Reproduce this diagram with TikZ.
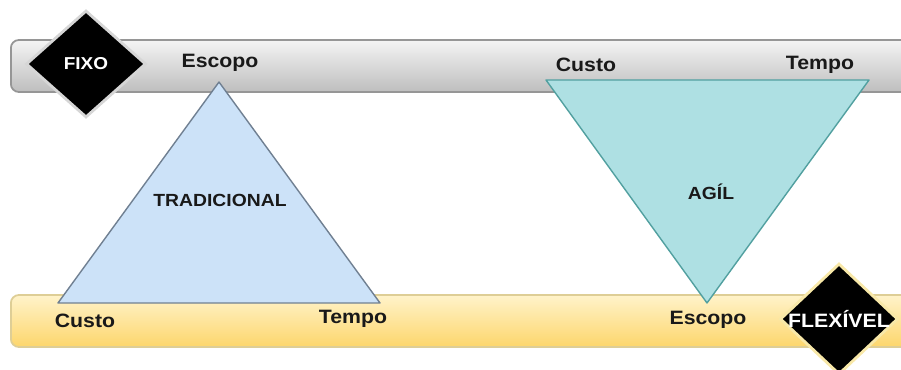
\documentclass[tikz,border=0pt]{standalone}
\usepackage{fontspec}
\setmainfont{Liberation Sans}
\newfontfamily\lblfont{Liberation Sans}[FakeStretch=1.1]
\usepackage{tikz}
\usetikzlibrary{shapes.geometric}
\usepackage{color}
\definecolor{Gray-top}{RGB}{244,244,244}
\definecolor{Gray-bot}{RGB}{190,190,190}
\definecolor{Gray-line}{RGB}{150,150,150}
\definecolor{Sun-top}{RGB}{255,243,202}
\definecolor{Sun-bot}{RGB}{253,214,108}
\definecolor{Sun-line}{RGB}{222,206,150}
\definecolor{Trad-fill}{RGB}{204,226,248}
\definecolor{Trad-line}{RGB}{112,128,146}
\definecolor{Agil-fill}{RGB}{174,224,227}
\definecolor{Agil-line}{RGB}{82,160,160}
\definecolor{Glow-gray}{RGB}{214,214,214}
\definecolor{Glow-sun}{RGB}{248,232,168}
\definecolor{Ink}{RGB}{25,25,25}

\begin{document}
\begin{tikzpicture}
    \path[use as bounding box] (0.0, -7.4) rectangle (18.02, 0.0);

    \tikzset{ bar/.style ={rounded corners=0.16cm, line width=1pt, minimum height=1.04cm, minimum width=18.6cm, anchor=west, inner sep=0} }
    \tikzset{ tag/.style ={diamond, fill=black, line width=1.6pt, inner sep=0} }
    \tikzset{ tagtext/.style ={text=white, inner sep=0} }
    \tikzset{ lbl/.style ={text=Ink, inner sep=0, font=\lblfont\bfseries\fontsize{11}{13}\selectfont} }

    \node[bar, draw=Gray-line, top color=Gray-top, bottom color=Gray-bot] (fixbar)  at (0.2, -1.32) {};
    \node[bar, draw=Sun-line,  top color=Sun-top,  bottom color=Sun-bot]  (flexbar) at (0.2, -6.42) {};

    \coordinate (tradtop)   at (4.38, -1.64);
    \coordinate (tradleft)  at (1.16, -6.06);
    \coordinate (tradright) at (7.60, -6.06);
    \coordinate (agilleft)  at (10.92, -1.60);
    \coordinate (agilright) at (17.38, -1.60);
    \coordinate (agilbot)   at (14.14, -6.06);

    \draw[fill=Trad-fill, draw=Trad-line, line width=0.8pt, line join=round] (tradtop) -- (tradleft) -- (tradright) -- cycle;
    \draw[fill=Agil-fill, draw=Agil-line, line width=0.8pt, line join=round] (agilleft) -- (agilright) -- (agilbot) -- cycle;

    \node[lbl] (escopo1) at (4.40, -1.26)  {Escopo};
    \node[lbl] (custo1)  at (11.72, -1.30) {Custo};
    \node[lbl] (tempo1)  at (16.40, -1.30) {Tempo};
    \node[lbl] (custo2)  at (1.70, -6.42)  {Custo};
    \node[lbl] (tempo2)  at (7.06, -6.38)  {Tempo};
    \node[lbl] (escopo2) at (14.16, -6.40) {Escopo};

    \node[lbl, font=\lblfont\bfseries\fontsize{10}{12}\selectfont] (trad) at (4.40, -4.00)  {TRADICIONAL};
    \node[lbl, font=\lblfont\bfseries\fontsize{10}{12}\selectfont] (agil) at (14.22, -3.84) {AGÍL};

    \node[tag, draw=Glow-gray, minimum width=2.40cm, minimum height=2.14cm] (fixo) at (1.72, -1.28) {};
    \node[tag, draw=Glow-sun,  minimum width=2.36cm, minimum height=2.22cm] (flex) at (16.78, -6.38) {};
    \node[tagtext, font=\lblfont\bfseries\fontsize{9.8}{12}\selectfont]  (fixotxt) at (fixo) {FIXO};
    \node[tagtext, font=\lblfont\bfseries\fontsize{11}{12}\selectfont] (flextxt) at (flex) {FLEXÍVEL};

  \end{tikzpicture}
\end{document}
